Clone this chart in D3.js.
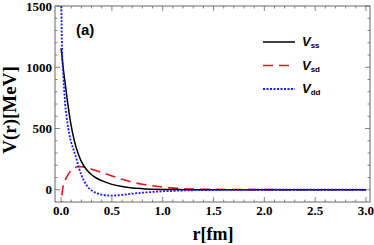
<!DOCTYPE html>
<html>
<head>
<meta charset="utf-8">
<script src="https://cdn.jsdelivr.net/npm/d3@7"></script>
<style>
  body { margin: 0; background: #fff; }
  svg { display: block; }
</style>
</head>
<body>
<div id="chart"></div>
<script>
// values
var rVals = [0, 0.005, 0.01, 0.02, 0.03, 0.04, 0.06, 0.08, 0.1, 0.125, 0.15, 0.175, 0.2, 0.25, 0.3, 0.35, 0.4, 0.5, 0.6, 0.7, 0.8, 1.0, 1.2, 1.5, 2.0, 2.5, 3.0];
var vss = [1155, 1120, 1080, 1000, 930, 870, 740, 620, 520, 420, 340, 280, 230, 165, 122, 94, 74, 44, 26, 15, 9, 3, 1, 0, 0, 0, 0];
var vsd = [-700, -120, -30, 25, 58, 80, 110, 138, 158, 175, 185, 189, 188, 180, 168, 155, 141, 113, 86, 62, 45, 22, 9, 3, 1, 0, 0];
var vdd = [1700, 1350, 1120, 960, 820, 700, 560, 455, 385, 320, 255, 180, 120, 38, -5, -28, -40, -48, -42, -32, -24, -13, -6, -2, 0, 0, 0];

var seriesNames = ["ss", "sd", "dd"];
var xTicks = [0, 0.5, 1.0, 1.5, 2.0, 2.5, 3.0];
var yTicks = [0, 500, 1000, 1500];

var W = 374, H = 245;
var x = d3.scaleLinear().domain([-0.06, 3.04]).range([55, 370]);
var y = d3.scaleLinear().domain([-100, 1500]).range([202, 6]);

var svg = d3.select("#chart").append("svg")
  .attr("width", W).attr("height", H);

svg.append("clipPath").attr("id", "clip")
  .append("rect")
    .attr("x", 55).attr("y", 6)
    .attr("width", 315).attr("height", 196);

var frameCol = "#666";

// ticks on all four sides, pointing in
var xMinor = d3.range(0, 3.01, 0.1);
var yMinor = d3.range(0, 1501, 100);

var tg = svg.append("g").attr("stroke", frameCol).attr("stroke-width", 0.8);
xMinor.forEach(function(t) {
  var major = Math.abs(t * 2 - Math.round(t * 2)) < 1e-6;
  var len = major ? 5 : 2.5;
  tg.append("line").attr("x1", x(t)).attr("x2", x(t)).attr("y1", 202).attr("y2", 202 - len);
  tg.append("line").attr("x1", x(t)).attr("x2", x(t)).attr("y1", 6).attr("y2", 6 + len);
});
yMinor.forEach(function(t) {
  var major = t % 500 === 0;
  var len = major ? 5 : 2.5;
  tg.append("line").attr("y1", y(t)).attr("y2", y(t)).attr("x1", 55).attr("x2", 55 + len);
  tg.append("line").attr("y1", y(t)).attr("y2", y(t)).attr("x1", 370).attr("x2", 370 - len);
});

// frame
svg.append("rect")
  .attr("x", 55).attr("y", 6).attr("width", 315).attr("height", 196)
  .attr("fill", "none").attr("stroke", frameCol).attr("stroke-width", 1);

// tick labels
svg.append("g").selectAll("text").data(xTicks).enter().append("text")
  .attr("x", function(d) { return x(d); })
  .attr("y", 215)
  .attr("text-anchor", "middle")
  .style("font-family", "Liberation Serif, Times New Roman, serif")
  .style("font-weight", "bold")
  .style("font-size", "13px")
  .text(function(d) { return d.toFixed(1); });

svg.append("g").selectAll("text").data(yTicks).enter().append("text")
  .attr("x", 52)
  .attr("y", function(d) { return y(d) + 4.5; })
  .attr("text-anchor", "end")
  .style("font-family", "Liberation Serif, Times New Roman, serif")
  .style("font-weight", "bold")
  .style("font-size", "13px")
  .text(function(d) { return d; });

// axis titles
svg.append("text")
  .attr("transform", "translate(16,110) rotate(-90)")
  .attr("text-anchor", "middle")
  .style("font-family", "Liberation Serif, Times New Roman, serif")
  .style("font-weight", "bold")
  .style("font-size", "19px")
  .text("V(r)[MeV]");

svg.append("text")
  .attr("x", 213).attr("y", 240)
  .attr("text-anchor", "middle")
  .style("font-family", "Liberation Serif, Times New Roman, serif")
  .style("font-weight", "bold")
  .style("font-size", "18px")
  .text("r[fm]");

// panel tag
svg.append("text")
  .attr("x", 76).attr("y", 35)
  .style("font-family", "Liberation Sans, Arial, sans-serif")
  .style("font-weight", "bold")
  .style("font-size", "15px")
  .text("(a)");

// curves
var styles = {
  ss: { color: "#000", dash: null, width: 1.5, data: vss },
  sd: { color: "#e8141c", dash: "10,6", width: 1.6, data: vsd },
  dd: { color: "#1a1aff", dash: "2,1.5", width: 1.8, data: vdd }
};

var line = d3.line()
  .x(function(d) { return x(d[0]); })
  .y(function(d) { return y(d[1]); })
  .curve(d3.curveMonotoneX);

var plot = svg.append("g").attr("clip-path", "url(#clip)");
["sd", "ss", "dd"].forEach(function(k) {
  var s = styles[k];
  plot.append("path")
    .datum(rVals.map(function(r, i) { return [r, s.data[i]]; }))
    .attr("d", line)
    .attr("fill", "none")
    .attr("stroke", s.color)
    .attr("stroke-width", s.width)
    .attr("stroke-dasharray", s.dash);
});

// legend
var leg = svg.append("g");
seriesNames.forEach(function(k, i) {
  var s = styles[k];
  var ly = 42 + i * 23.5;
  leg.append("line")
    .attr("x1", 263).attr("x2", 295).attr("y1", ly).attr("y2", ly)
    .attr("stroke", s.color)
    .attr("stroke-width", s.width)
    .attr("stroke-dasharray", s.dash);
  var t = leg.append("text")
    .attr("x", 302).attr("y", ly + 4)
    .style("font-family", "Liberation Sans, Arial, sans-serif")
    .style("font-weight", "bold")
    .style("font-size", "13px");
  t.append("tspan").style("font-style", "italic").text("V");
  t.append("tspan").attr("dy", 2).style("font-size", "8px").text(k);
});
</script>
</body>
</html>
